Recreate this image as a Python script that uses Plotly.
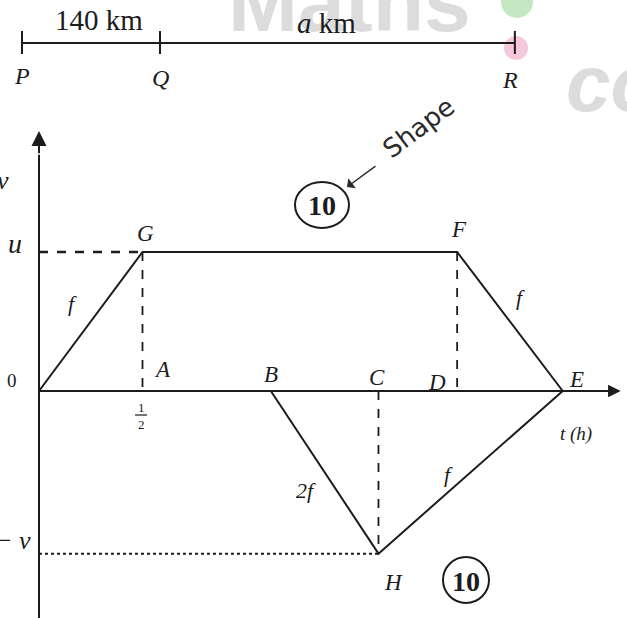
import plotly.graph_objects as go

# ---- velocity-time diagram data ----
t_names = ["O", "A", "B", "C", "D", "E"]
t_vals = [0.0, 0.5, 1.12, 1.64, 2.02, 2.53]        # hours
u_speed = 1.0                                        # level u
v_speed = 1.17                                       # level -v (magnitude)

upper_names = ["O", "G", "F", "E"]
upper_t = [0.0, 0.5, 2.02, 2.53]
upper_v = [0.0, 1.0, 1.0, 0.0]

lower_names = ["B", "H", "E"]
lower_t = [1.12, 1.64, 2.53]
lower_v = [0.0, -1.17, 0.0]

slope_labels = ["f", "f", "2f", "f"]

# ---- distance diagram data ----
stations = ["P", "Q", "R"]
station_km = [0, 140, 500]
segment_labels = ["140 km", "<i>a</i> km"]

# ---- layout constants ----
W, H = 627, 618
X0, Y0 = 39, 391          # origin of the v-t axes in pixels
PX_T, PX_V = 207, 139     # pixels per hour / per unit speed
KM0, PX_KM = 22, 138 / 140
LINE_Y = 43               # pixel row of the P-Q-R line
INK = "#1c1c1c"
SERIF = "Liberation Serif"

t_at = dict(zip(t_names, t_vals))
t_end = t_at["E"] + 0.28
v_top = 1.70

fig = go.Figure()


def seg(xs, ys, dash="solid", width=2.0, xaxis="x", yaxis="y"):
    fig.add_trace(go.Scatter(
        x=xs, y=ys, mode="lines", xaxis=xaxis, yaxis=yaxis,
        line=dict(color=INK, width=width, dash=dash),
        hoverinfo="skip", showlegend=False))


# axes of the v-t graph
seg([0, 0], [-(H - Y0) / PX_V, v_top])
seg([0, t_end - 0.03], [0, 0])

# velocity profile of the first train (O-G-F-E)
seg(upper_t, upper_v)
# velocity profile of the second train (B-H-E)
seg(lower_t, lower_v)

# guide lines
seg([0, upper_t[1]], [u_speed, u_speed], dash="dash", width=2.4)
seg([t_at["A"], t_at["A"]], [u_speed, 0], dash="dash", width=1.8)
seg([t_at["D"], t_at["D"]], [u_speed, 0], dash="dash", width=1.8)
seg([t_at["C"], t_at["C"]], [0, -v_speed], dash="dash", width=1.8)
seg([0, lower_t[1]], [-v_speed, -v_speed], dash="dot", width=2.0)

# P-Q-R distance line
seg([station_km[0], station_km[-1]], [0, 0], width=2.0, xaxis="x2", yaxis="y2")
for km in station_km:
    seg([km, km], [-11, 12], width=2.0, xaxis="x2", yaxis="y2")

ann = []


def P(x, y):
    return dict(x=x / W, y=1 - y / H, xref="paper", yref="paper")


def label(text, x, y, size=23, italic=True, color=INK, family=SERIF, **kw):
    a = P(x, y)
    a.update(text=f"<i>{text}</i>" if italic else text, showarrow=False,
             font=dict(family=family, size=size, color=color),
             xanchor="center", yanchor="middle")
    a.update(kw)
    ann.append(a)


# watermark
label("<b>Maths</b>", 349, 2, size=84, italic=False, color="#dcdcdc",
      family="Liberation Sans")
label("<b><i>co</i></b>", 612, 84, size=80, italic=False, color="#dcdcdc",
      family="Liberation Sans")

# distance diagram labels
label(segment_labels[0], 99, 20, size=29, italic=False)
label(segment_labels[1], 327, 23, size=29, italic=False)
for name, x, y in zip(stations, [22, 160, 510], [76, 78, 80]):
    label(name, x, y, size=24)

# axis labels
label("v", 3, 180, size=26)
label("u", 15, 244, size=28)
label("0", 12, 381, size=19, italic=False)
label("− v", 33, 540, size=26, xanchor="right")
label("t (h)", 576, 434, size=19)

# point labels
for name, x, y in [("G", 145, 233), ("F", 459, 229), ("A", 162, 369),
                   ("B", 271, 375), ("C", 377, 378), ("D", 437, 382),
                   ("E", 576, 379), ("H", 393, 582)]:
    label(name, x, y, size=23)

# slope labels
for text, x, y in zip(slope_labels, [72, 520, 306, 448], [304, 298, 490, 474]):
    label(text, x, y, size=22)

# half-hour mark
label("1", 141, 407, size=13, italic=False)
label("2", 141, 424, size=13, italic=False)

# circled question numbers
for x, y in [(322, 205), (466, 580)]:
    label("<b>10</b>", x, y + 1, size=28, italic=False)

# hand note
label("Shape", 418, 128, size=26, italic=False, color="#2a2a2a",
      family="DejaVu Sans", textangle=-37)

# arrowheads on the axes and the note
ann.append(dict(x=t_end, y=0, ax=t_end - 0.1, ay=0, xref="x", yref="y",
                axref="x", ayref="y", showarrow=True, arrowhead=2,
                arrowsize=1.4, arrowwidth=1.8, arrowcolor=INK, text=""))
ann.append(dict(x=0, y=v_top + 0.17, ax=0, ay=v_top, xref="x", yref="y",
                axref="x", ayref="y", showarrow=True, arrowhead=2,
                arrowsize=1.5, arrowwidth=2.0, arrowcolor=INK, text=""))
arr = P(347, 187)
arr.update(ax=30, ay=-22, showarrow=True, arrowhead=1, arrowsize=1.5,
           arrowwidth=1.4, arrowcolor="#2a2a2a", text="")
ann.append(arr)

shapes = []
# fraction bar of 1/2
shapes.append(dict(type="line", xref="paper", yref="paper",
                   x0=135 / W, x1=147 / W, y0=1 - 415 / H, y1=1 - 415 / H,
                   line=dict(color=INK, width=1.2)))
# circles round the question numbers
for cx, cy, rx, ry in [(322, 205, 27, 23), (466, 580, 23, 23)]:
    shapes.append(dict(type="circle", xref="paper", yref="paper",
                       x0=(cx - rx) / W, x1=(cx + rx) / W,
                       y0=1 - (cy + ry) / H, y1=1 - (cy - ry) / H,
                       line=dict(color=INK, width=2)))
# watermark dots
for cx, cy, r, col in [(517, 2, 16, "#c6e7c3"), (516, 48, 12, "#f6c8dc")]:
    shapes.append(dict(type="circle", xref="paper", yref="paper",
                       x0=(cx - r) / W, x1=(cx + r) / W,
                       y0=1 - (cy + r) / H, y1=1 - (cy - r) / H,
                       fillcolor=col, line=dict(width=0), layer="below"))

hidden = dict(visible=False, showgrid=False, zeroline=False, fixedrange=True)
fig.update_layout(
    width=W, height=H, margin=dict(l=0, r=0, t=0, b=0),
    paper_bgcolor="white", plot_bgcolor="white",
    xaxis=dict(range=[-X0 / PX_T, (W - X0) / PX_T], domain=[0, 1], **hidden),
    yaxis=dict(range=[-(H - Y0) / PX_V, Y0 / PX_V], domain=[0, 1], **hidden),
    xaxis2=dict(range=[-KM0 / PX_KM, (W - KM0) / PX_KM], domain=[0, 1],
                overlaying="x", **hidden),
    yaxis2=dict(range=[LINE_Y - H, LINE_Y], domain=[0, 1], overlaying="y",
                **hidden),
    annotations=ann, shapes=shapes, showlegend=False,
)

fig.write_html("out.html")
